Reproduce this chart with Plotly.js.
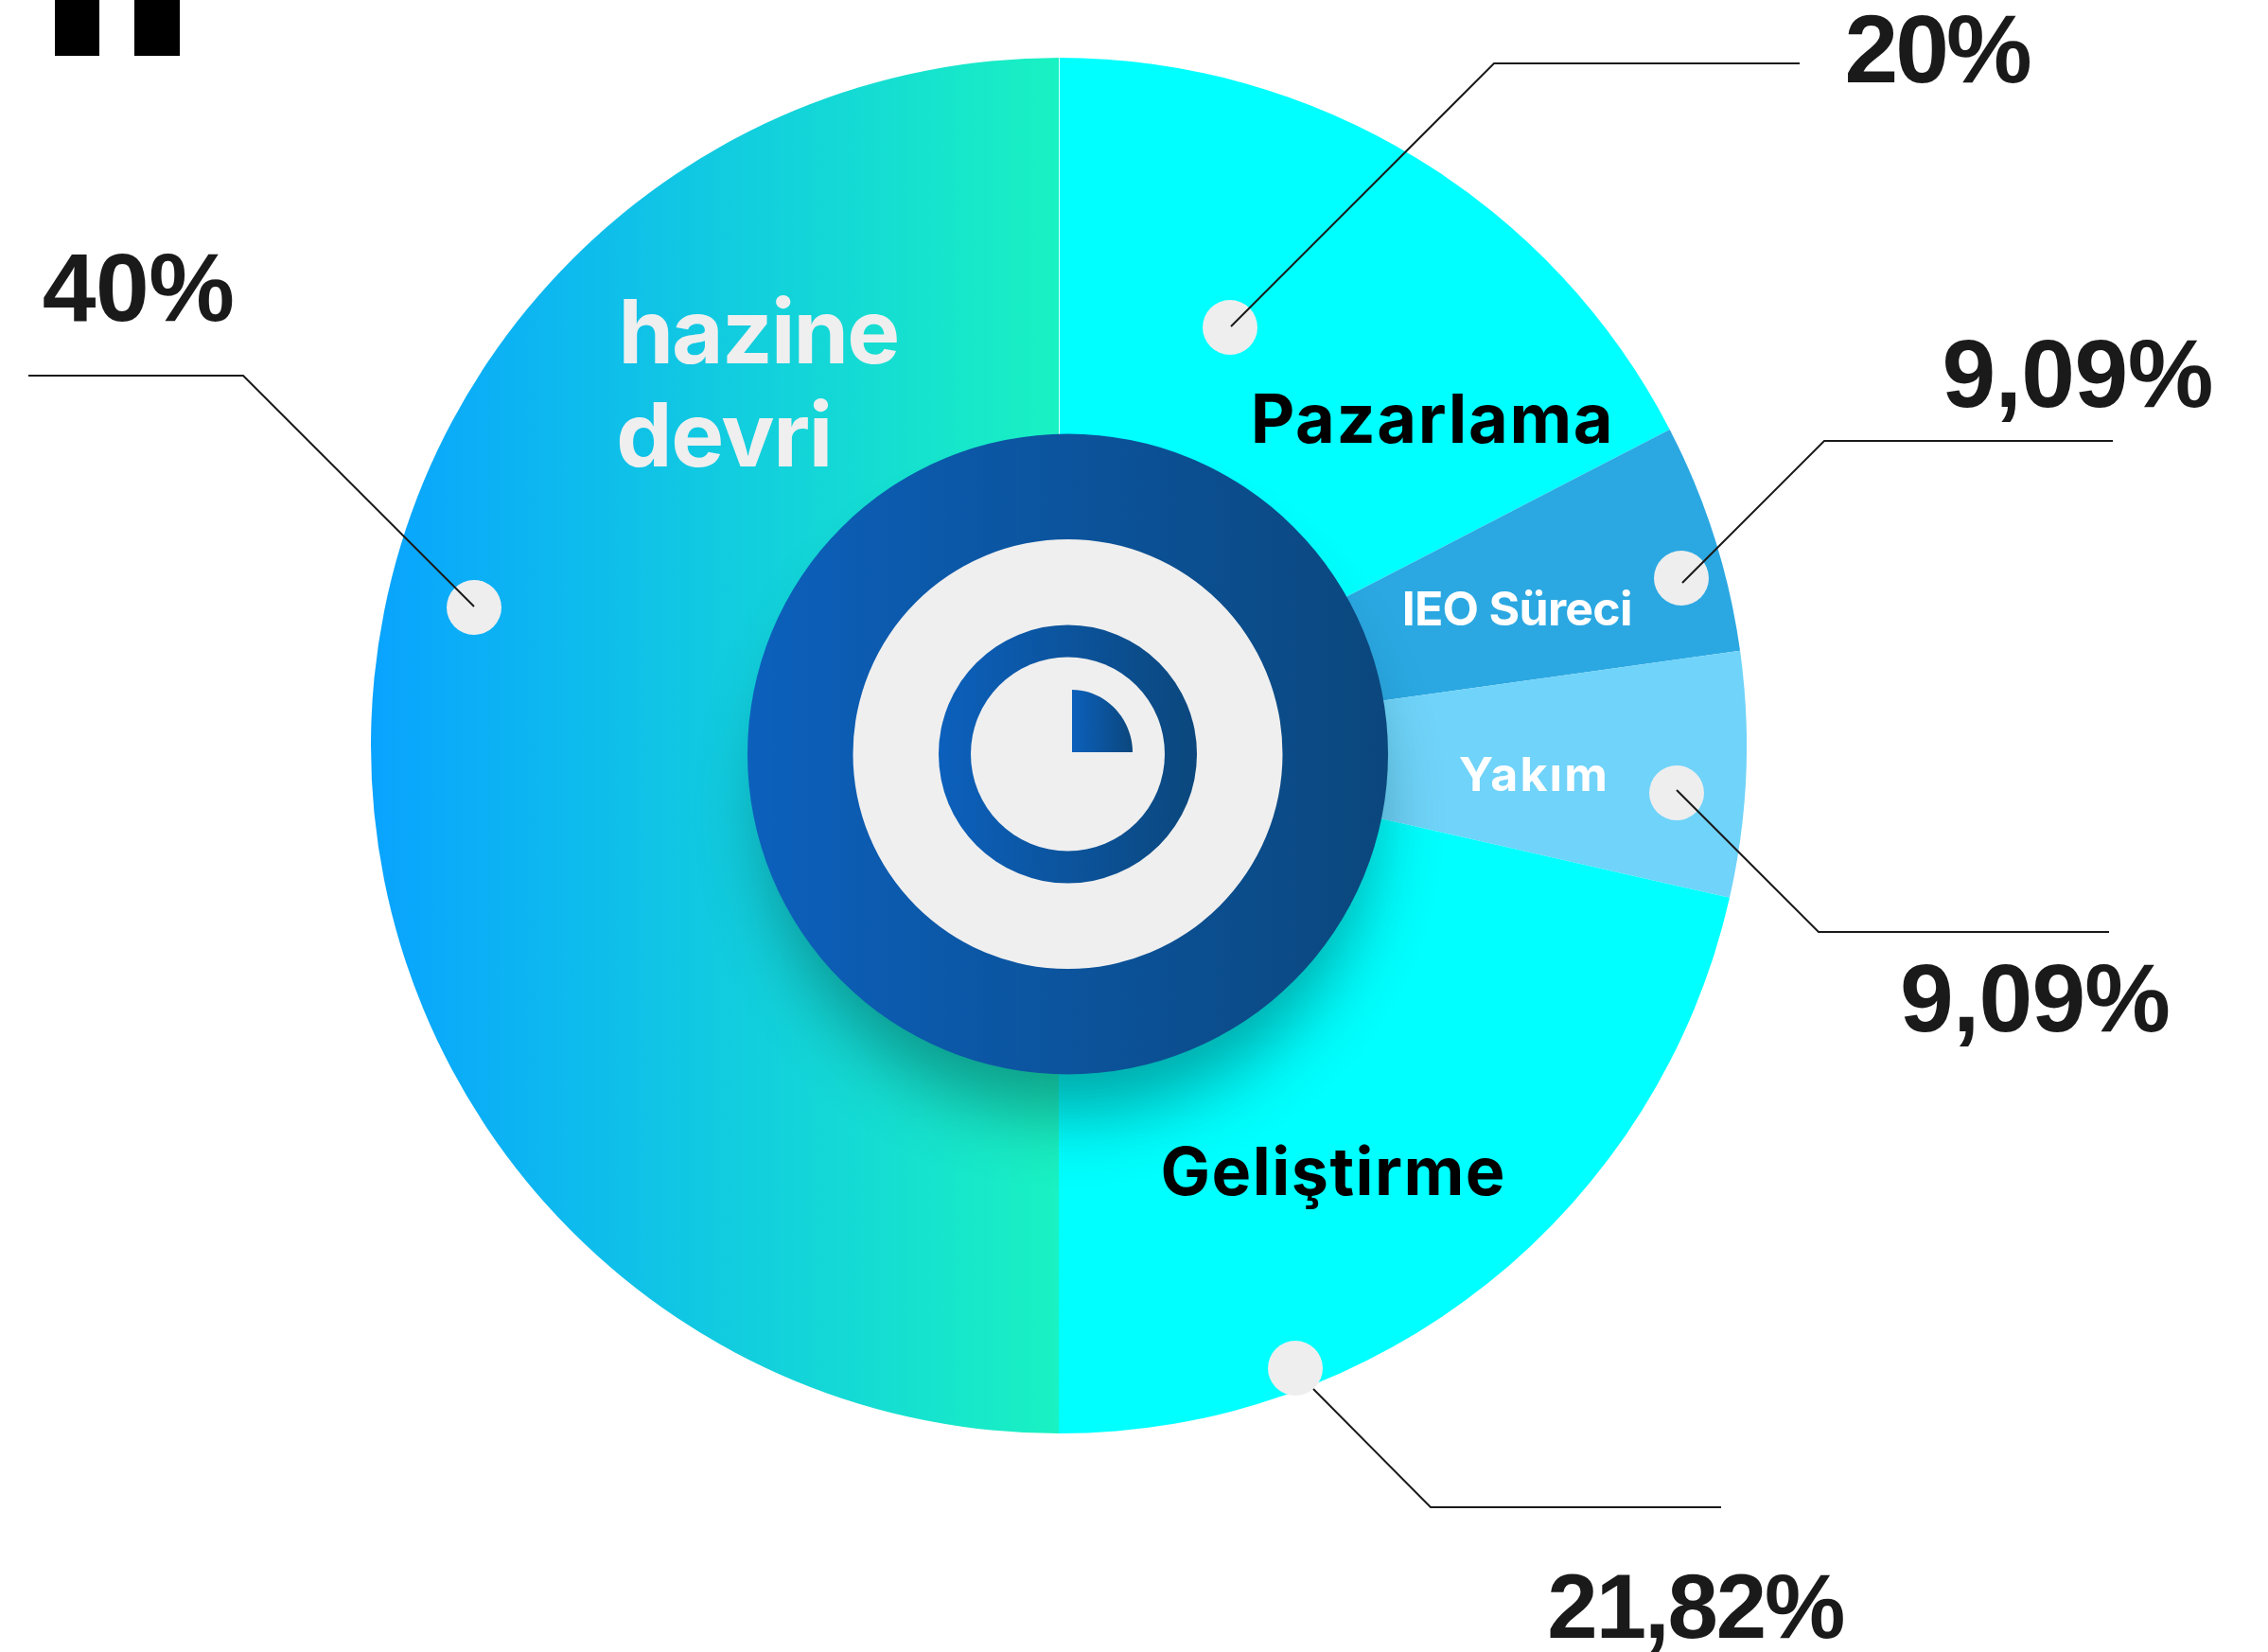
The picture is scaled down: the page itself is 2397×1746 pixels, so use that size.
<!DOCTYPE html>
<html><head><meta charset="utf-8">
<script src="https://cdn.plot.ly/plotly-3.0.1.min.js"></script>
<style>html,body{margin:0;padding:0;background:#fff}#c{width:2397px;height:1746px}</style>
</head><body><div id="c"></div>
<script>
// Categories and slice sizes as drawn (shares of the circle)
const categories = ["Pazarlama", "IEO Süreci", "Yakım", "Geliştirme", "hazine devri"];
const drawnShares = [17.4, 5.4, 5.75, 21.45, 50];
// Percentages as printed beside the slices
const printedLabels = ["20%", "9,09%", "9,09%", "21,82%", "40%"];
const sliceColors = ["#00FFFF", "#2BA8E2", "#70D3F9", "#00FFFF", "#0FCCE0"];

const W = 2397, H = 1746;
const X = v => v / W, Y = v => 1 - v / H;
const FONT = "Inter, Lato, sans-serif";
const NUM_FONT = "'Liberation Sans', Arial, sans-serif";

const cx = 1119, cy = 788, R = 727;
const hubX = 1128.5, hubY = 797;

function circle(x, y, r, color, extra) {
  return Object.assign({type: "circle", xref: "paper", yref: "paper",
    x0: X(x - r), x1: X(x + r), y0: Y(y + r), y1: Y(y - r),
    fillcolor: color, line: {width: 0}}, extra || {});
}
function rect(x0, y0, x1, y1, color) {
  return {type: "rect", xref: "paper", yref: "paper", x0: X(x0), x1: X(x1), y0: Y(y1), y1: Y(y0),
    fillcolor: color, line: {width: 0}};
}
function polyline(pts) {
  const d = pts.map((p, i) => (i ? "L" : "M") + X(p[0]) + "," + Y(p[1])).join(" ");
  return {type: "path", xref: "paper", yref: "paper", path: d, line: {color: "#1a1a1a", width: 2}, fillcolor: "rgba(0,0,0,0)"};
}

const qx = 1133, qy = 795, qr = 64, k = 0.5523 * qr;
const shapes = [
  rect(58, 0, 105, 59, "#000"), rect(142, 0, 190, 59, "#000"),
  {type: "line", xref: "paper", yref: "paper", x0: X(1119.5), x1: X(1119.5), y0: Y(61), y1: Y(460), line: {color: "#d8ffff", width: 1}},
  circle(hubX + 2, hubY + 60, 320, "#003b3b", {opacity: 0.45}),   // 3: soft shadow
  circle(hubX, hubY, 338.5, "#0B5AAE"),                            // 4
  circle(hubX, hubY, 227, "#EFEFEF"),
  circle(hubX, hubY, 136.5, "#0B5AAE"),                            // 6
  circle(hubX, hubY, 102.5, "#EFEFEF"),
  {type: "path", xref: "paper", yref: "paper", fillcolor: "#0B5AAE", line: {width: 0},   // 8
   path: `M${X(qx)},${Y(qy)} L${X(qx)},${Y(qy - qr - 2)} C${X(qx + k)},${Y(qy - qr - 2)} ${X(qx + qr)},${Y(qy - k)} ${X(qx + qr)},${Y(qy)} Z`},
  circle(1300, 346, 29, "#EEEEEE"),
  circle(501, 642, 29, "#EEEEEE"),
  circle(1777, 611, 29, "#EEEEEE"),
  circle(1772, 838, 29, "#EEEEEE"),
  circle(1369, 1446, 29, "#EEEEEE"),
  polyline([[1301, 345], [1579, 67], [1902, 67]]),
  polyline([[30, 397], [257, 397], [501, 641]]),
  polyline([[1778, 616], [1928, 466], [2233, 466]]),
  polyline([[1772, 835], [1922, 985], [2229, 985]]),
  polyline([[1388, 1468], [1512, 1593], [1819, 1593]])
];

const labelWidths = [];
function label(text, x0, x1, baseline, size, color, family) {
  labelWidths.push(x1 - x0);
  return {text, showarrow: false, xref: "paper", yref: "paper", xanchor: "center", yanchor: "bottom",
    x: X((x0 + x1) / 2), y: Y(baseline + size * 0.235), borderpad: 0, borderwidth: 0,
    font: {family: family || FONT, size, color, weight: 700}};
}
const annotations = [
  label(printedLabels[0], 1948, 2146, 85, 102, "#1a1a1a", NUM_FONT),
  label(printedLabels[1], 2052, 2339, 428, 102, "#1a1a1a", NUM_FONT),
  label(printedLabels[2], 2007, 2293, 1088, 102, "#1a1a1a", NUM_FONT),
  label(printedLabels[3], 1634, 1949, 1728, 96, "#1a1a1a", NUM_FONT),
  label(printedLabels[4], 44, 247, 337, 102, "#1a1a1a", NUM_FONT),
  label("hazine", 653, 951, 385, 94, "#EFEFEF"),
  label("devri", 650, 879, 494, 94, "#EFEFEF"),
  label(categories[0], 1322, 1705, 468, 72, "#000"),
  label(categories[1], 1481, 1725, 661, 50, "#fff"),
  label(categories[2], 1543, 1700, 836, 50, "#fff"),
  label(categories[3], 1227, 1591, 1264, 70, "#000")
];

const data = [{
  type: "pie", labels: categories, values: drawnShares, sort: false, direction: "clockwise", rotation: 0,
  textinfo: "none", hoverinfo: "label", showlegend: false,
  marker: {colors: sliceColors, line: {width: 0}},
  domain: {x: [X(cx - R), X(cx + R)], y: [Y(cy + R), Y(cy - R)]}
}];
const layout = {width: W, height: H, margin: {l: 0, r: 0, t: 0, b: 0}, paper_bgcolor: "#fff", showlegend: false,
  font: {family: FONT}, shapes, annotations};

Plotly.newPlot("c", data, layout, {displayModeBar: false, staticPlot: true}).then(gd => {
  const NS = "http://www.w3.org/2000/svg";
  const defs = gd.querySelector("svg.main-svg defs");
  function gradient(id, a, b) {
    const g = document.createElementNS(NS, "linearGradient");
    g.setAttribute("id", id); g.setAttribute("x1", "0"); g.setAttribute("x2", "1"); g.setAttribute("y1", "0"); g.setAttribute("y2", "0");
    [[0, a], [1, b]].forEach(([o, c]) => {
      const s = document.createElementNS(NS, "stop");
      s.setAttribute("offset", o); s.setAttribute("stop-color", c); g.appendChild(s);
    });
    defs.appendChild(g);
  }
  gradient("gHaz", "#09A3FF", "#19F2C2");
  gradient("gHub", "#0C60BC", "#0B477D");
  const slices = gd.querySelectorAll(".pielayer .slice path.surface");
  slices[4].style.fill = "url(#gHaz)";
  const sp = gd.querySelectorAll(".shapelayer path");
  sp[3].style.filter = "blur(38px)";
  [4, 6, 8].forEach(i => { sp[i].style.fill = "url(#gHub)"; });
  // Fit each text's width to the reference through letter spacing
  gd.querySelectorAll("text.annotation-text").forEach((el, i) => {
    const n = el.textContent.length;
    const gap = (labelWidths[i] - el.getComputedTextLength()) / (n - 1);
    el.style.letterSpacing = gap.toFixed(2) + "px";
  });
});
</script></body></html>
